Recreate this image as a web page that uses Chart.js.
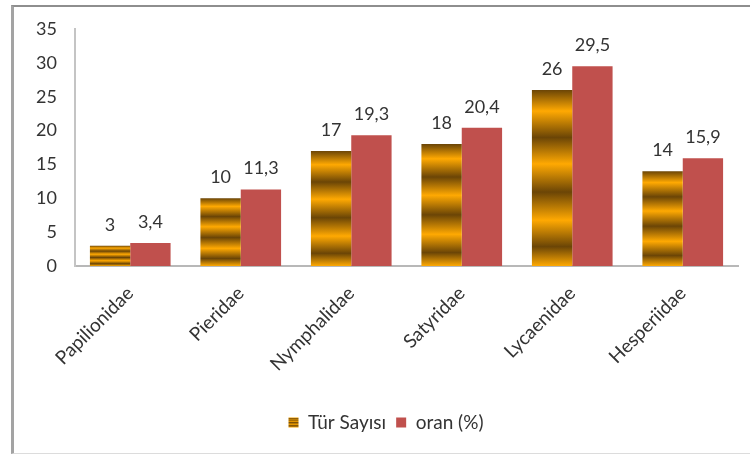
<!DOCTYPE html>
<html>
<head>
<meta charset="utf-8">
<script src="https://cdn.jsdelivr.net/npm/chart.js@4/dist/chart.umd.min.js"></script>
<style>
    html, body { margin: 0; padding: 0; background: #fff; }
    #wrap { position: relative; width: 750px; height: 455px; }
    #frame {
        position: absolute; left: 11px; top: 5px; width: 760px; height: 446px;
        border-left: 3px solid #a3a3a3; border-top: 2px solid #8e8e8e;
        border-bottom: 1px solid #dcdcdc; pointer-events: none;
    }
</style>
</head>
<body>
<div id="wrap">
    <canvas id="chart" width="750" height="455"></canvas>
    <div id="frame"></div>
</div>
<script>

// veriler
const families = ["Papilionidae", "Pieridae", "Nymphalidae", "Satyridae", "Lycaenidae", "Hesperiidae"];
const speciesCount = [3, 10, 17, 18, 26, 14];
const ratio = [3.4, 11.3, 19.3, 20.4, 29.5, 15.9];
const yTicks = [0, 5, 10, 15, 20, 25, 30, 35];

const ORANGE = "#ffa902";
const BROWN = "#6b4506";
const RED = "#c0504d";
const TEXT = "#333333";
const FONT = "Lato, 'Open Sans', sans-serif";

// turuncu/kahve çizgili dolgu, her çubuğa göre ölçeklenir
function stripeGradient(c, top, base) {
    const g = c.createLinearGradient(0, top, 0, base);
    const stops = [
        [0, BROWN], [0.12, ORANGE], [0.27, BROWN], [0.42, ORANGE],
        [0.58, BROWN], [0.74, ORANGE], [0.89, BROWN], [1, ORANGE]
    ];
    stops.forEach(([o, col]) => g.addColorStop(o, col));
    return g;
}

function legendPattern() {
    const pc = document.createElement("canvas");
    pc.width = 10;
    pc.height = 10;
    const p = pc.getContext("2d");
    p.fillStyle = stripeGradient(p, 0, 10);
    p.fillRect(0, 0, 10, 10);
    return pc;
}

const valueLabels = {
    id: "valueLabels",
    afterDatasetsDraw(chart) {
        const { ctx } = chart;
        ctx.save();
        ctx.fillStyle = TEXT;
        ctx.font = "18px " + FONT;
        ctx.textAlign = "center";
        ctx.textBaseline = "alphabetic";
        chart.data.datasets.forEach((ds, i) => {
            chart.getDatasetMeta(i).data.forEach((bar, j) => {
                const text = String(ds.data[j]).replace(".", ",");
                ctx.fillText(text, bar.x, bar.y - 15);
            });
        });
        ctx.restore();
    }
};

const canvas = document.getElementById("chart");

new Chart(canvas, {

    type: "bar",

    data: {

        labels: families,

        datasets: [

            {
                label: "Tür Sayısı",
                data: speciesCount,
                backgroundColor(context) {
                    const chart = context.chart;
                    const y = chart.scales.y;
                    if (!y || context.dataIndex === undefined) return ORANGE;
                    const top = y.getPixelForValue(context.raw);
                    const base = y.getPixelForValue(0);
                    if (!isFinite(top) || !isFinite(base) || base - top < 1) return ORANGE;
                    return stripeGradient(chart.ctx, top, base);
                },
                borderWidth: 0
            },

            {
                label: "oran (%)",
                data: ratio,
                backgroundColor: RED,
                borderWidth: 0
            }

        ]

    },

    options: {

        responsive: false,

        animation: false,

        categoryPercentage: 0.73,

        barPercentage: 1,

        layout: {
            padding: { top: 29, right: 12, bottom: 13, left: 34 }
        },

        scales: {

            x: {
                grid: { display: false, drawTicks: false },
                border: { color: "#b8b8b8", width: 2 },
                ticks: {
                    color: TEXT,
                    font: { family: FONT, size: 19 },
                    minRotation: 45,
                    maxRotation: 45,
                    padding: 16
                },
                afterFit(scale) { scale.height = 137; }
            },

            y: {
                min: 0,
                max: 35,
                afterBuildTicks(scale) {
                    scale.ticks = yTicks.map(v => ({ value: v }));
                },
                grid: { display: false, drawTicks: false },
                border: { color: "#c4c4c4", width: 2 },
                ticks: {
                    color: TEXT,
                    font: { family: FONT, size: 18 },
                    padding: 18
                },
                afterFit(scale) { scale.width = 41; }
            }

        },

        plugins: {

            legend: {
                position: "bottom",
                labels: {
                    color: TEXT,
                    font: { family: FONT, size: 19 },
                    boxWidth: 10,
                    boxHeight: 10,
                    padding: 10,
                    generateLabels(chart) {
                        const items = Chart.defaults.plugins.legend.labels.generateLabels(chart);
                        items[0].fillStyle = chart.ctx.createPattern(legendPattern(), "repeat");
                        items.forEach(it => { it.lineWidth = 0; it.strokeStyle = "transparent"; });
                        return items;
                    }
                }
            },

            tooltip: { enabled: false }

        }

    },

    plugins: [valueLabels]

});

</script>
</body>
</html>
